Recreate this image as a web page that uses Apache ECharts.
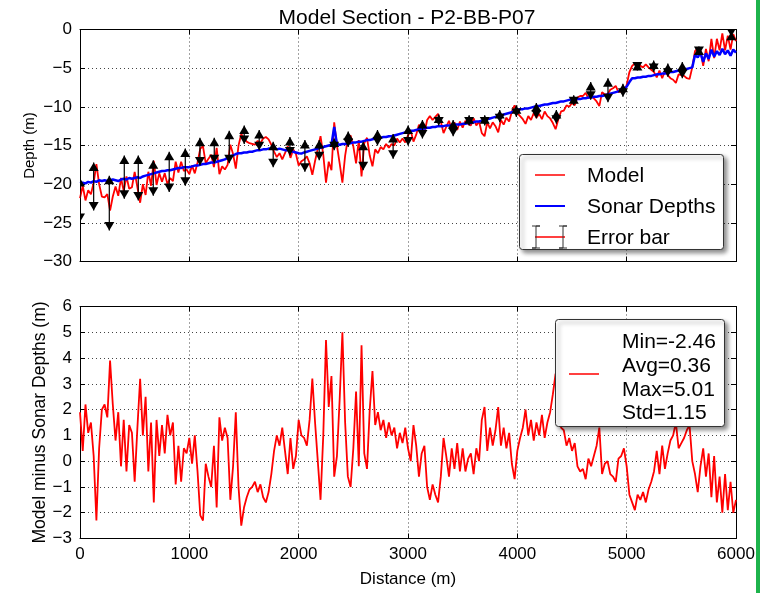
<!DOCTYPE html>
<html><head><meta charset="utf-8">
<script src="https://cdn.jsdelivr.net/npm/echarts@6/dist/echarts.min.js"></script>
<style>html,body{margin:0;padding:0;background:#fff}#c{width:760px;height:593px}</style>
</head><body><div id="c"></div>
<script>
// ---------------- DATA ----------------
const STEP = 25; // metres between samples
const sonarDepths = [
  -19.9,-19.8,-19.9,-19.7,-19.8,-19.6,-19.7,-19.5,-19.6,-19.5,-19.6,
  -19.5,-19.4,-19.5,-19.6,-19.4,-19.3,-19.4,-19.2,-19.3,-19.2,
  -19.1,-19.2,-19.0,-18.9,-18.8,-18.7,-18.6,-18.5,-18.4,-18.3,
  -18.3,-18.2,-18.2,-18.1,-18.0,-17.9,-17.9,-17.8,-17.8,-17.8,
  -17.7,-17.6,-17.6,-17.5,-17.4,-17.4,-17.3,-17.2,-17.2,-17.1,
  -17.0,-16.9,-16.8,-16.6,-16.4,-16.3,-16.1,-16.0,-16.0,-15.9,
  -15.9,-15.8,-15.8,-15.7,-15.6,-15.6,-15.5,-15.5,-15.4,-15.4,
  -15.4,-15.5,-15.4,-15.5,-15.6,-15.6,-15.7,-15.8,-15.9,-16.0,
  -16.05,-15.9,-15.8,-15.7,-15.6,-15.5,-15.4,-15.3,-15.2,-15.1,
  -15.0,-14.9,-12.6,-14.8,-14.9,-14.8,-14.8,-14.7,-14.7,-14.6,
  -14.6,-14.5,-14.5,-14.4,-14.3,-14.3,-14.2,-14.1,-14.1,-14.0,
  -13.9,-13.9,-13.8,-13.8,-13.7,-13.6,-13.5,-13.4,-13.3,-13.2,
  -13.1,-13.1,-13.0,-12.9,-12.9,-12.8,-12.7,-12.7,-12.6,-12.6,
  -12.5,-12.5,-12.5,-12.4,-12.4,-12.4,-12.3,-12.3,-12.3,-12.2,
  -12.2,-12.1,-12.1,-12.0,-11.9,-11.9,-11.8,-11.7,-11.6,-11.5,
  -11.4,-11.3,-11.2,-11.1,-11.0,-10.9,-10.8,-10.7,-10.5,-10.4,
  -10.3,-10.3,-10.2,-10.2,-10.1,-10.0,-9.9,-9.9,-9.8,-9.7,
  -9.7,-9.6,-9.5,-9.5,-9.4,-9.3,-9.3,-9.2,-9.1,-9.1,
  -9.1,-9.0,-9.0,-8.9,-8.9,-8.8,-8.8,-8.7,-8.7,-8.6,
  -8.6,-8.5,-8.4,-8.3,-8.2,-8.1,-8.0,-7.8,-7.6,-7.4,
  -6.8,-6.3,-6.3,-6.2,-6.2,-6.1,-6.1,-6.0,-6.0,-5.9,
  -5.8,-5.8,-5.7,-5.7,-5.6,-5.5,-5.5,-5.4,-5.3,-5.2,
  -5.1,-5.1,-5.0,-4.9,-3.3,-3.6,-3.0,-4.2,-3.1,-3.8,
  -2.6,-3.5,-2.8,-3.3,-2.5,-3.2,-2.7,-3.4,-2.6,-3.0
];
// Model minus Sonar Depths (depths positive downwards)
const modelMinusSonar = [
  1.9,0.4,2.2,1.1,1.5,0.2,-2.3,0.5,
  2.0,2.2,1.7,3.9,2.2,0.8,1.9,-0.2,
  1.6,-0.4,1.4,1.1,-0.8,1.3,3.2,1.0,
  2.5,-0.4,1.5,-1.6,1.6,0.2,1.4,0.3,
  1.8,1.0,1.5,-0.9,0.6,-0.8,0.5,0.3,
  0.9,-0.1,1.0,-0.4,-2.1,-2.3,-0.1,-0.6,
  -1.0,0.6,-1.8,1.7,0.8,1.3,0.9,-1.5,
  -0.2,1.9,-1.0,-2.5,-1.8,-1.4,-1.1,-1.0,
  -0.8,-1.2,-0.9,-1.4,-1.6,-1.2,-0.5,0.4,
  1.0,0.6,1.3,0.4,-0.5,0.9,-0.3,0.2,
  1.6,1.0,0.9,0.6,1.6,3.2,1.5,0.0,
  -1.5,1.0,4.7,2.1,3.3,-0.6,0.2,2.4,
  5.0,1.5,-0.6,-1.0,0.5,2.7,-0.2,4.5,
  0.3,-0.3,2.0,3.5,1.4,1.9,1.2,1.6,
  0.9,1.5,1.0,1.3,0.5,1.1,0.7,1.3,
  0.5,0.0,1.4,0.6,-0.6,0.3,0.6,-1.0,
  -1.5,-0.9,-1.3,-1.6,-0.6,0.9,0.2,-0.6,
  0.5,-0.3,0.7,-0.4,0.5,-0.4,0.1,0.3,
  -0.5,0.5,0.0,1.6,2.1,0.4,1.3,0.6,
  1.2,2.1,0.6,1.3,0.5,1.1,-0.1,-0.7,
  0.4,0.9,1.3,2.0,1.0,1.6,0.8,1.5,
  1.0,1.8,0.9,1.5,1.9,2.6,3.4,2.2,
  1.3,1.2,0.6,0.9,0.4,0.7,-0.2,-0.4,
  -0.3,-0.7,0.1,-0.2,0.2,0.6,1.3,-0.5,
  -0.1,0.0,-0.5,-0.6,-0.8,0.1,0.2,0.5,
  -0.2,-1.3,-1.6,-1.9,-1.3,-1.5,-1.2,-1.6,
  -1.1,-0.8,-0.4,0.4,-0.5,0.6,-0.3,0.3,
  0.8,1.0,1.5,0.5,0.7,0.9,1.2,1.4,
  0.0,-0.5,-1.2,-0.2,0.5,-0.6,0.3,-1.4,
  0.2,-1.6,-0.6,-2.0,-0.5,-1.9,-0.8,-2.0,
  -1.5
];
// Error bars (distance, upper end, lower end)
const errX   = [0,125,268,405,533,670,816,963,1097,1228,1365,1502,1639,1767,1920,2057,2188,2325,2453,2590,2721,2864,3001,3132,3281,3413,3559,3702,3839,3991,4174,4357,4516,4671,4829,4966,5098,5247,5377,5509,5661,5957];
const errTop = [-19.2,-17.2,-18.9,-16.3,-16.3,-16.9,-15.8,-15.4,-14.0,-14.0,-13.1,-12.4,-13.0,-14.5,-13.9,-14.3,-14.3,-14.1,-13.2,-14.5,-13.0,-13.5,-12.4,-11.7,-11.0,-11.7,-11.1,-11.1,-10.4,-9.8,-9.5,-10.4,-8.5,-6.8,-6.3,-7.0,-4.2,-4.0,-4.4,-4.2,-2.2,-0.3];
const errBot = [-24.9,-23.4,-26.0,-21.9,-22.1,-21.5,-21.0,-20.2,-17.6,-17.3,-17.3,-14.8,-15.6,-17.8,-16.3,-18.4,-16.9,-15.6,-15.2,-18.2,-15.0,-16.7,-15.0,-14.1,-12.4,-13.8,-12.4,-12.4,-12.0,-11.3,-11.5,-12.2,-9.8,-9.1,-9.4,-8.7,-5.3,-5.5,-6.1,-6.3,-3.3,-0.9];

const titleText = 'Model Section - P2-BB-P07';
const legendLabels = ['Model', 'Sonar Depths', 'Error bar'];
const statsLabels = ['Min=-2.46', 'Avg=0.36', 'Max=5.01', 'Std=1.15'];
const xName = 'Distance (m)';
const yNameTop = 'Depth (m)';
const yNameBottom = 'Model minus Sonar Depths (m)';

// ---------------- BUILD ----------------
const n = Math.min(sonarDepths.length, modelMinusSonar.length);
const sonarData = [], modelData = [], diffData = [];
for (let i = 0; i < n; i++) {
  const d = i * STEP;
  sonarData.push([d, sonarDepths[i]]);
  modelData.push([d, +(sonarDepths[i] - modelMinusSonar[i]).toFixed(2)]);
  diffData.push([d, modelMinusSonar[i]]);
}
const errData = errX.map((x, i) => [x, errTop[i], errBot[i]]);

const FONT = '"Liberation Sans", Arial, Helvetica, sans-serif';
const fmt = v => v < 0 ? '\u2212' + (-v) : String(v);
function gridLine() { return { show: true, lineStyle: { color: '#444', type: [1, 3], width: 1 } }; }
function tick() { return { show: true, inside: true, length: 5, lineStyle: { color: '#000', width: 1 } }; }
function axLine() { return { show: true, onZero: false, lineStyle: { color: '#000', width: 1 } }; }

function xAx(gi, pos, labels, extra) {
  return Object.assign({
    type: 'value', gridIndex: gi, position: pos, min: 0, max: 6000, interval: 1000,
    axisLine: axLine(), axisTick: tick(),
    axisLabel: { show: labels, color: '#000', fontSize: 17, fontFamily: FONT, margin: 7, formatter: fmt },
    splitLine: pos === 'bottom' ? gridLine() : { show: false }
  }, extra || {});
}
function yAx(gi, pos, min, max, iv, labels, extra) {
  return Object.assign({
    type: 'value', gridIndex: gi, position: pos, min: min, max: max, interval: iv,
    axisLine: axLine(), axisTick: tick(),
    axisLabel: { show: labels, color: '#000', fontSize: 17, fontFamily: FONT, margin: 8, formatter: fmt },
    splitLine: pos === 'left' ? gridLine() : { show: false }
  }, extra || {});
}

function renderErr(params, api) {
  const x = api.value(0), hi = api.value(1), lo = api.value(2);
  const a = api.coord([x, hi]), b = api.coord([x, lo]);
  const w = 5, h = 8.5;
  return {
    type: 'group', children: [
      { type: 'line', shape: { x1: a[0], y1: a[1], x2: b[0], y2: b[1] }, style: { stroke: '#000', lineWidth: 1.2 } },
      { type: 'polygon', shape: { points: [[a[0], a[1]], [a[0] - w, a[1] + h], [a[0] + w, a[1] + h]] }, style: { fill: '#000' } },
      { type: 'polygon', shape: { points: [[b[0], b[1]], [b[0] - w, b[1] - h], [b[0] + w, b[1] - h]] }, style: { fill: '#000' } }
    ]
  };
}

const tFont = { fontSize: 21, fontFamily: FONT, fill: '#000', verticalAlign: 'middle', align: 'left' };
const graphics = [
  { type: 'rect', z: 100, shape: { x: 756, y: 0, width: 4, height: 593 }, style: { fill: '#1db34c' } },
  // top legend
  { type: 'rect', z: 100, shape: { x: 519.5, y: 154.5, width: 204, height: 95, r: 3 },
    style: { fill: '#fff', stroke: '#333', lineWidth: 1, shadowBlur: 4, shadowOffsetX: 3, shadowOffsetY: 3, shadowColor: 'rgba(0,0,0,0.45)' } },
  { type: 'line', z: 101, shape: { x1: 535, y1: 175, x2: 565, y2: 175 }, style: { stroke: '#f00', lineWidth: 1.5 } },
  { type: 'line', z: 101, shape: { x1: 535, y1: 206, x2: 565, y2: 206 }, style: { stroke: '#00f', lineWidth: 2 } },
  { type: 'line', z: 101, shape: { x1: 535, y1: 237, x2: 565, y2: 237 }, style: { stroke: '#f00', lineWidth: 1.5 } },
  { type: 'polyline', z: 102, shape: { points: [[532, 226], [540, 226], [536, 226], [536, 248], [532, 248], [540, 248]] }, style: { stroke: '#333', lineWidth: 1, fill: null } },
  { type: 'polyline', z: 102, shape: { points: [[559, 226], [567, 226], [563, 226], [563, 248], [559, 248], [567, 248]] }, style: { stroke: '#333', lineWidth: 1, fill: null } },
  { type: 'text', z: 101, x: 587, y: 176, style: Object.assign({ text: legendLabels[0] }, tFont) },
  { type: 'text', z: 101, x: 587, y: 207, style: Object.assign({ text: legendLabels[1] }, tFont) },
  { type: 'text', z: 101, x: 587, y: 238, style: Object.assign({ text: legendLabels[2] }, tFont) },
  // bottom legend
  { type: 'rect', z: 100, shape: { x: 555.5, y: 319.5, width: 169, height: 107, r: 3 },
    style: { fill: '#fff', stroke: '#333', lineWidth: 1, shadowBlur: 4, shadowOffsetX: 3, shadowOffsetY: 3, shadowColor: 'rgba(0,0,0,0.45)' } },
  { type: 'line', z: 101, shape: { x1: 569, y1: 374, x2: 599, y2: 374 }, style: { stroke: '#f00', lineWidth: 1.5 } },
  { type: 'text', z: 101, x: 622, y: 342, style: Object.assign({ text: statsLabels[0] }, tFont) },
  { type: 'text', z: 101, x: 622, y: 366, style: Object.assign({ text: statsLabels[1] }, tFont) },
  { type: 'text', z: 101, x: 622, y: 390, style: Object.assign({ text: statsLabels[2] }, tFont) },
  { type: 'text', z: 101, x: 622, y: 413, style: Object.assign({ text: statsLabels[3] }, tFont) }
];

const chart = echarts.init(document.getElementById('c'), null, { renderer: 'canvas' });
chart.setOption({
  animation: false,
  backgroundColor: '#fff',
  textStyle: { fontFamily: FONT },
  title: { text: titleText, left: 402, top: 3, textAlign: 'center',
    textStyle: { fontSize: 21, fontWeight: 'normal', fontFamily: FONT, color: '#000' } },
  grid: [
    { left: 80, top: 29.5, width: 656, height: 232 },
    { left: 80, top: 306.5, width: 656, height: 232 }
  ],
  xAxis: [
    xAx(0, 'bottom', false),
    xAx(0, 'top', false),
    xAx(1, 'bottom', true, { name: xName, nameLocation: 'middle', nameGap: 32, nameMoveOverlap: false,
      nameTextStyle: { fontSize: 17, fontFamily: FONT, color: '#000' } }),
    xAx(1, 'top', false)
  ],
  yAxis: [
    yAx(0, 'left', -30, 0, 5, true, { name: yNameTop, nameLocation: 'middle', nameGap: 43, nameMoveOverlap: false,
      nameTextStyle: { fontSize: 15, fontFamily: FONT, color: '#000' } }),
    yAx(0, 'right', -30, 0, 5, false),
    yAx(1, 'left', -3, 6, 1, true, { name: yNameBottom, nameLocation: 'middle', nameGap: 31, nameMoveOverlap: false,
      nameTextStyle: { fontSize: 17.5, fontFamily: FONT, color: '#000' } }),
    yAx(1, 'right', -3, 6, 1, false)
  ],
  series: [
    { name: legendLabels[0], type: 'line', xAxisIndex: 0, yAxisIndex: 0, data: modelData, showSymbol: false,
      lineStyle: { color: '#f00', width: 1.8 }, itemStyle: { color: '#f00' }, z: 3 },
    { name: legendLabels[1], type: 'line', xAxisIndex: 0, yAxisIndex: 0, data: sonarData, showSymbol: false,
      lineStyle: { color: '#0000ff', width: 2.5 }, itemStyle: { color: '#00f' }, z: 4 },
    { name: legendLabels[2], type: 'custom', xAxisIndex: 0, yAxisIndex: 0, data: errData, renderItem: renderErr,
      encode: { x: 0, y: [1, 2] }, clip: true, z: 5 },
    { name: 'Model minus Sonar Depths', type: 'line', xAxisIndex: 2, yAxisIndex: 2, data: diffData, showSymbol: false,
      lineStyle: { color: '#f00', width: 1.8 }, itemStyle: { color: '#f00' }, z: 3 }
  ],
  graphic: graphics
});
</script>
</body></html>
